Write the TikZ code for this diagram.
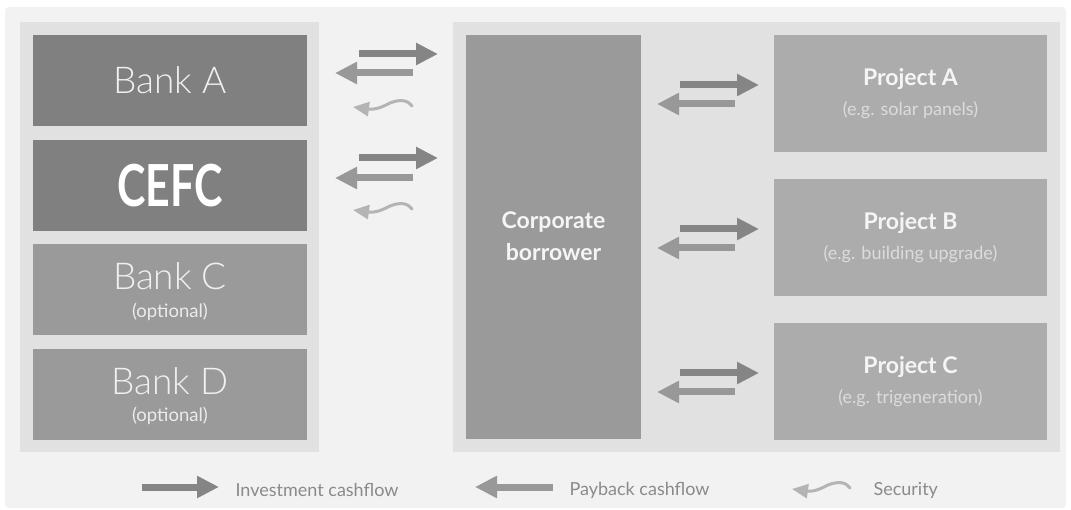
\documentclass[tikz,border=0pt]{standalone}
\usepackage{fontspec}
\setmainfont{Lato}
\IfFontExistsTF{Lato Light}{\newfontfamily\lightfont{Lato Light}}{\newfontfamily\lightfont{Lato}}
\usetikzlibrary{arrows.meta}
\definecolor{outerbg}{HTML}{F2F2F2}
\definecolor{groupbg}{HTML}{E1E1E1}
\definecolor{darkbox}{HTML}{808080}
\definecolor{midbox}{HTML}{9A9A9A}
\definecolor{projbox}{HTML}{ACACAC}
\definecolor{invcol}{HTML}{858585}
\definecolor{paycol}{HTML}{989898}
\definecolor{seccol}{HTML}{B4B4B4}
\definecolor{legtext}{HTML}{8A8A8A}
\definecolor{subtext}{HTML}{DCDCDC}
\begin{document}
\begin{tikzpicture}[x=1pt,y=-1pt,
  box/.style={anchor=north west, inner sep=0pt, draw=none},
  txt/.style={inner sep=0pt, text=white, anchor=center},
  invarrow/.style={-{Triangle[length=22pt,width=21pt]}, line width=7pt, draw=invcol},
  payarrow/.style={-{Triangle[length=22pt,width=21pt]}, line width=7pt, draw=paycol},
  secarrow/.style={-{Triangle[length=16pt,width=14pt]}, line width=3pt, draw=seccol},
  legendtext/.style={anchor=west, text=legtext, font=\fontsize{18}{20}\selectfont},
  banktext/.style={txt, text=white!94!black, font=\lightfont\fontsize{37}{40}\selectfont},
  opttext/.style={txt, text=white!92!black, font=\fontsize{18.5}{20}\selectfont},
  projtitle/.style={txt, text=white!96!black, font=\fontsize{23}{26}\selectfont\bfseries},
  projsub/.style={txt, text=subtext, font=\fontsize{18}{20}\selectfont}
]
\useasboundingbox (0,0) rectangle (1071,510);
\fill[white] (0,0) rectangle (1071,510);
\fill[outerbg, rounded corners=4pt] (5,7) rectangle (1066,508);
% groups
\fill[groupbg] (20,22) rectangle (319,452);
\fill[groupbg] (453,22) rectangle (1060,452);
% banks
\node[box, fill=darkbox, minimum width=274pt, minimum height=91pt] (bankA) at (33,35) {};
\node[banktext] (tA) at (170,80) {Bank A};
\node[box, fill=darkbox, minimum width=274pt, minimum height=91pt] (cefc) at (33,140) {};
\node[txt] (tCEFC) at (170,186) {\scalebox{0.74}[1]{\fontsize{58}{60}\selectfont\bfseries CEFC}};
\node[box, fill=midbox, minimum width=274pt, minimum height=91pt] (bankC) at (33,244) {};
\node[banktext] (tC) at (170,276) {Bank C};
\node[opttext] (oC) at (170,312) {(optional)};
\node[box, fill=midbox, minimum width=274pt, minimum height=91pt] (bankD) at (33,349) {};
\node[banktext] (tD) at (170,381) {Bank D};
\node[opttext] (oD) at (170,416) {(optional)};
% corporate
\node[box, fill=midbox, minimum width=175pt, minimum height=404pt] (corp) at (466,35) {};
\node[projtitle] (tcorp1) at (553.5,222) {Corporate};
\node[projtitle] (tcorp2) at (553.5,252) {borrower};
% projects
\node[box, fill=projbox, minimum width=273pt, minimum height=117pt] (projA) at (774,35) {};
\node[projtitle] (tpA) at (910.5,79) {Project A};
\node[projsub] (spA) at (910.5,110) {(e.g. solar panels)};
\node[box, fill=projbox, minimum width=273pt, minimum height=117pt] (projB) at (774,179) {};
\node[projtitle] (tpB) at (910.5,223) {Project B};
\node[projsub] (spB) at (910.5,254) {(e.g. building upgrade)};
\node[box, fill=projbox, minimum width=273pt, minimum height=117pt] (projC) at (774,323) {};
\node[projtitle] (tpC) at (910.5,367) {Project C};
\node[projsub] (spC) at (910.5,398) {(e.g. trigeneration)};
% coordinates for left arrows
\coordinate (a1s) at (359,54); \coordinate (a1e) at (438,54);
\coordinate (p1s) at (413,73); \coordinate (p1e) at (335,73);
\coordinate (a2s) at (359,158); \coordinate (a2e) at (438,158);
\coordinate (p2s) at (413,178); \coordinate (p2e) at (335,178);
\draw[invarrow] (a1s) -- (a1e);
\draw[payarrow] (p1s) -- (p1e);
\draw[invarrow] (a2s) -- (a2e);
\draw[payarrow] (p2s) -- (p2e);
\coordinate (s1s) at (412,106); \coordinate (s1e) at (353,107);
\draw[secarrow, line cap=round] (s1s) .. controls (408,100) and (400,99) .. (390,103) .. controls (382,107) and (376,110) .. (s1e);
\coordinate (s2s) at (412,209); \coordinate (s2e) at (353,210);
\draw[secarrow, line cap=round] (s2s) .. controls (408,203) and (400,202) .. (390,206) .. controls (382,210) and (376,213) .. (s2e);
% right arrows
\foreach \y [count=\i] in {85,229,373}{
  \coordinate (ra\i s) at (680,\y); \coordinate (ra\i e) at (759,\y);
  \coordinate (rp\i s) at (735,\y+19); \coordinate (rp\i e) at (657,\y+19);
  \draw[invarrow] (ra\i s) -- (ra\i e);
  \draw[payarrow] (rp\i s) -- (rp\i e);
}
% legend
\coordinate (l1s) at (142,487); \coordinate (l1e) at (219,487);
\draw[invarrow] (l1s) -- (l1e);
\node[legendtext] (lt1) at (232,490) {Investment cashflow};
\coordinate (l2s) at (553,487); \coordinate (l2e) at (475,487);
\draw[payarrow] (l2s) -- (l2e);
\node[legendtext] (lt2) at (566,490) {Payback cashflow};
\coordinate (l3s) at (850,488); \coordinate (l3e) at (792,489);
\draw[secarrow, line cap=round] (l3s) .. controls (846,482) and (838,481) .. (828,485) .. controls (820,489) and (814,492) .. (l3e);
\node[legendtext] (lt3) at (870,490) {Security};
\end{tikzpicture}
\end{document}
